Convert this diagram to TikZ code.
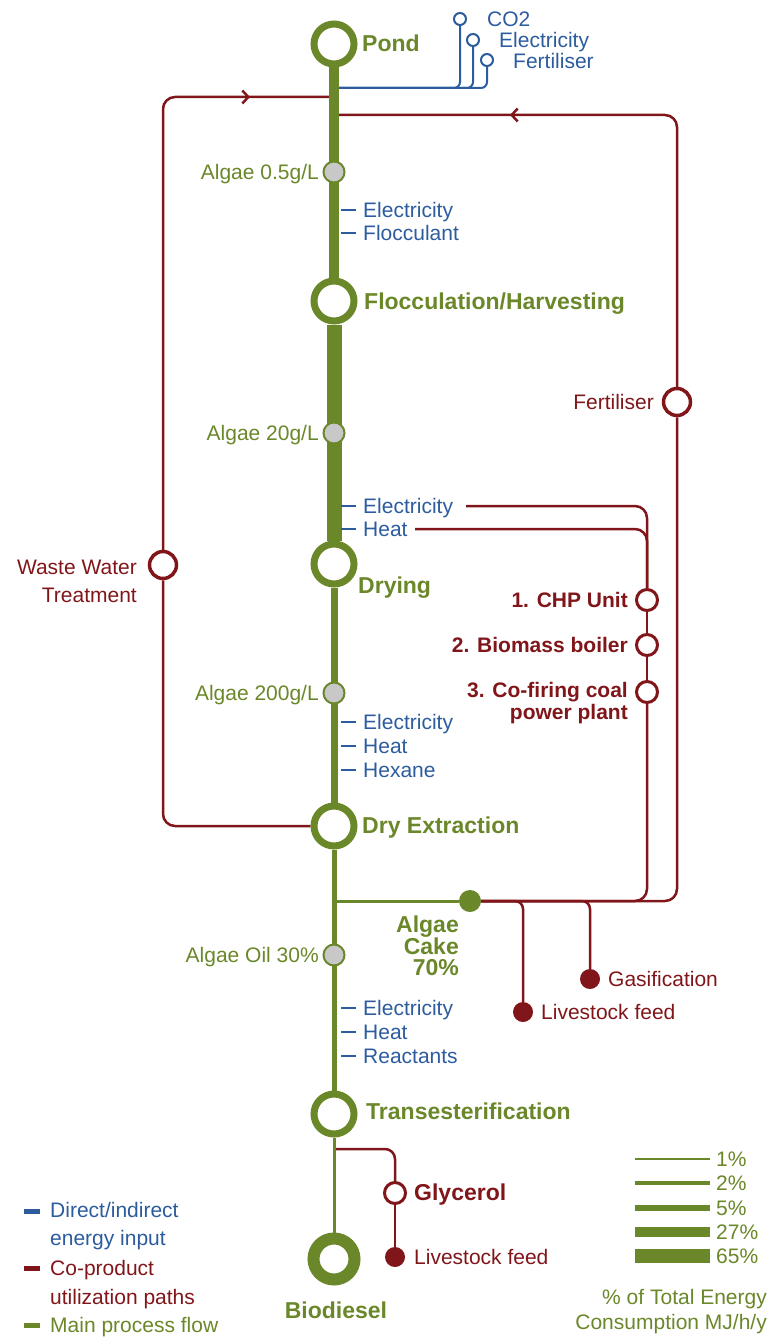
\documentclass[tikz,border=0pt]{standalone}
\usepackage{fontspec}
\setmainfont{Liberation Sans}
\usetikzlibrary{backgrounds,decorations.markings,arrows.meta}
\definecolor{G}{RGB}{106,135,41}
\definecolor{B}{RGB}{44,92,158}
\definecolor{R}{RGB}{128,22,26}
\definecolor{GR}{RGB}{200,200,200}
\begin{document}
\begin{tikzpicture}[x=1pt,y=-1pt,
  mainc/.style={circle,draw=G,line width=7pt,fill=white,minimum size=40pt,inner sep=0pt},
  gdot/.style={circle,draw=G,line width=2pt,fill=GR,minimum size=21pt,inner sep=0pt},
  rring/.style={circle,draw=R,line width=3pt,fill=white,minimum size=21pt,inner sep=0pt},
  rbig/.style={circle,draw=R,line width=3.5pt,fill=white,minimum size=27pt,inner sep=0pt},
  rdot/.style={circle,fill=R,minimum size=20pt,inner sep=0pt},
  bring/.style={circle,draw=B,line width=2pt,fill=white,minimum size=12pt,inner sep=0pt},
  rline/.style={draw=R,line width=2.5pt,rounded corners=12pt},
  bline/.style={draw=B,line width=2pt,rounded corners=6pt},
  btick/.style={draw=B,line width=2pt},
  txt/.style={font=\fontsize{21}{24}\selectfont,inner sep=0pt,yshift=-2.5pt},
  gtxt/.style={txt,text=G}, btxt/.style={txt,text=B}, rtxt/.style={txt,text=R},
  gbold/.style={font=\fontsize{23}{21}\selectfont\bfseries,text=G,inner sep=0pt,yshift=-2.5pt},
  rbold/.style={font=\fontsize{21}{22}\selectfont\bfseries,text=R,inner sep=0pt,yshift=-2.5pt},
  arrmark/.style={postaction={decorate},decoration={markings,mark=at position #1 with {\arrow{Straight Barb[length=6pt,width=13pt]}}}},
]
\useasboundingbox (0,0) rectangle (772,1340);

% main process nodes
\node[mainc] (pond) at (334,44) {};
\node[gbold,anchor=mid west] (pondl) at (362,46) {Pond};
\node[mainc] (floc) at (334,301) {};
\node[gbold,anchor=mid west] (flocl) at (364,304) {Flocculation/Harvesting};
\node[mainc] (dry) at (334,564) {};
\node[gbold,anchor=mid west] (dryl) at (358,588) {Drying};
\node[mainc] (dext) at (334,826) {};
\node[gbold,anchor=mid west] (dextl) at (362,828) {Dry Extraction};
\node[mainc] (trans) at (334,1114) {};
\node[gbold,anchor=mid west] (transl) at (366,1114) {Transesterification};
\node[circle,draw=G,line width=12pt,fill=white,minimum size=41pt,inner sep=0pt] (bio) at (334,1259) {};
\node[gbold,anchor=mid] (biol) at (336,1313) {Biodiesel};

% intermediate dots
\node[gdot] (a1) at (334,172) {};
\node[gtxt,anchor=mid east] (a1l) at (319,174) {Algae 0.5g/L};
\node[gdot] (a2) at (334,433) {};
\node[gtxt,anchor=mid east] (a2l) at (319,435) {Algae 20g/L};
\node[gdot] (a3) at (334,693) {};
\node[gtxt,anchor=mid east] (a3l) at (319,695) {Algae 200g/L};
\node[gdot] (a4) at (334,955) {};
\node[gtxt,anchor=mid east] (a4l) at (319,957) {Algae Oil 30\%};

% blue inputs
\node[bring] (b1) at (460,19) {};
\node[bring] (b2) at (473,40) {};
\node[bring] (b3) at (487,60) {};
\node[btxt,anchor=mid west] (b1l) at (487,21) {CO2};
\node[btxt,anchor=mid west] (b2l) at (499,42) {Electricity};
\node[btxt,anchor=mid west] (b3l) at (513,63) {Fertiliser};
\coordinate (bj) at (334,88);

\foreach \yy/\tt in {210/Electricity,233/Flocculant,506/Electricity,529/Heat,722/Electricity,746/Heat,770/Hexane,1008/Electricity,1032/Heat,1056/Reactants}{
  \draw[btick] (341,\yy) -- (356,\yy);
  \node[btxt,anchor=mid west] at (363,\yy+2) {\tt};
}

% red co-product nodes
\coordinate (rj1) at (334,97);
\coordinate (rj2) at (334,115);
\node[rbig] (ww) at (163,565) {};
\node[rtxt,anchor=north east,align=right,font=\fontsize{21}{28}\selectfont] (wwl) at (137,557) {Waste Water\\Treatment};
\node[rbig] (fert) at (677,402) {};
\node[rtxt,anchor=mid east] (fertl) at (654,404) {Fertiliser};
\node[rring] (chp) at (647,600) {};
\node[rbold,anchor=mid east] (chpl) at (628,602) {1. CHP Unit};
\node[rring] (bmb) at (647,645) {};
\node[rbold,anchor=mid east] (bmbl) at (628,647) {2. Biomass boiler};
\node[rring] (cof) at (647,692) {};
\node[rbold,anchor=north east,align=right] (cofl) at (628,680) {3. Co-firing coal\\power plant};
\coordinate (re) at (466,506);
\coordinate (rh) at (415,529);

\node[circle,fill=G,minimum size=22pt,inner sep=0pt] (cake) at (470,901) {};
\node[gbold,anchor=north east,align=right] (cakel) at (459,913) {Algae\\Cake\\70\%};
\coordinate (cj) at (334,901);
\node[rdot] (lf1) at (523,1012) {};
\node[rtxt,anchor=mid west] (lf1l) at (541,1014) {Livestock feed};
\node[rdot] (gas) at (590,979) {};
\node[rtxt,anchor=mid west] (gasl) at (608,981) {Gasification};

\coordinate (gj) at (334,1149);
\node[rring] (gly) at (395,1193) {};
\node[rbold,anchor=mid west,font=\fontsize{23}{24}\selectfont\bfseries] (glyl) at (414,1195) {Glycerol};
\node[rdot] (lf2) at (395,1257) {};
\node[rtxt,anchor=mid west] (lf2l) at (414,1259) {Livestock feed};

\begin{pgfonlayer}{background}
  % blue
  \draw[bline] (bj) -| (b3.south);
  \draw[bline] (bj) -| (b2.south);
  \draw[bline] (bj) -| (b1.south);
  % red loops
  \draw[rline] (dext.west) -| (ww.south);
  \draw[rline,arrmark=-84pt] (ww.north) |- (rj1);
  \draw[rline,arrmark=-176pt] (fert.north) |- (rj2);
  \draw[rline] (fert.south) |- (cake.east);
  \draw[rline] (re) -| (chp.north);
  \draw[rline] (rh) -| (chp.north);
  \draw[rline] (chp.south) -- (bmb.north);
  \draw[rline] (bmb.south) -- (cof.north);
  \draw[rline] (cof.south) |- (cake.east);
  \draw[rline,rounded corners=8pt] (cake.east) -| (lf1.north);
  \draw[rline,rounded corners=8pt] (cake.east) -| (gas.north);
  \draw[rline,rounded corners=10pt] (gj) -| (gly.north);
  \draw[rline] (gly.south) -- (lf2.north);
  % green
  \draw[G,line width=3pt] (cj) -- (cake);
  \draw[G,line width=10pt] (pond) -- (floc);
  \draw[G,line width=15pt] (floc) -- (dry);
  \draw[G,line width=7pt] (dry) -- (dext);
  \draw[G,line width=5pt] (dext) -- (trans);
  \draw[G,line width=3pt] (trans) -- (bio);
\end{pgfonlayer}

% legend left
\draw[B,line width=5pt] (24,1211) -- (40,1211);
\draw[R,line width=5pt] (24,1268) -- (40,1268);
\draw[G,line width=5pt] (24,1325) -- (40,1325);
\node[btxt,anchor=mid west] at (50,1212) {Direct/indirect};
\node[btxt,anchor=mid west] at (50,1240) {energy input};
\node[rtxt,anchor=mid west] at (50,1270) {Co-product};
\node[rtxt,anchor=mid west] at (50,1299) {utilization paths};
\node[gtxt,anchor=mid west] at (50,1327) {Main process flow};

% legend right
\foreach \yy/\ww/\tt in {1159/2.5/1,1183/4.5/2,1208/6.5/5,1232/10/27,1256/14/65}{
  \draw[G,line width=\ww pt] (635,\yy) -- (710,\yy);
  \node[gtxt,anchor=mid west] at (716,\yy+2) {\tt\%};
}
\node[gtxt,anchor=mid east] at (767,1299) {\% of Total Energy};
\node[gtxt,anchor=mid east] at (767,1324) {Consumption MJ/h/y};
\end{tikzpicture}
\end{document}
